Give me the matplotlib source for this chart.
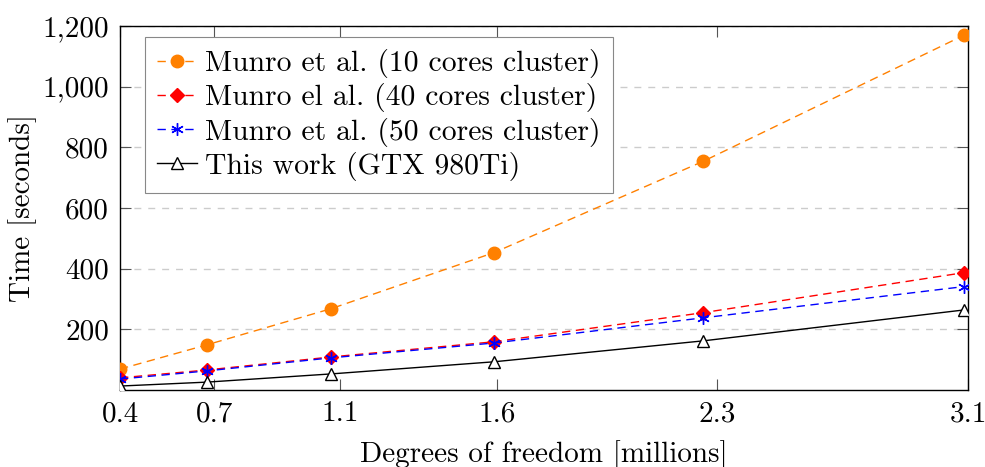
import matplotlib
matplotlib.use("Agg")
import matplotlib.pyplot as plt

# Data (degrees of freedom in millions vs time in seconds)
dof = [0.40, 0.677, 1.072, 1.591, 2.257, 3.088]
munro_10 = [69, 149, 268, 453, 754, 1170]
munro_40 = [40, 66, 109, 159, 255, 387]
munro_50 = [36, 63, 106, 155, 238, 341]
this_work = [13, 26, 53, 93, 162, 264]

xticks = [0.4, 0.7, 1.1, 1.6, 2.3, 3.1]
yticks = [200, 400, 600, 800, 1000, 1200]
ytick_labels = ["200", "400", "600", "800", "1,000", "1,200"]

labels = ["Munro et al. (10 cores cluster)",
          "Munro el al. (40 cores cluster)",
          "Munro et al. (50 cores cluster)",
          "This work (GTX 980Ti)"]

plt.rcParams['font.family'] = ['cmr10', 'DejaVu Serif']
plt.rcParams['axes.formatter.use_mathtext'] = True
plt.rcParams['mathtext.fontset'] = 'cm'

fig = plt.figure(figsize=(9.85, 4.67), dpi=100)
ax = fig.add_axes([120/985, 77/467, 848/985, 364/467])

fs = 21
lfs = 21.4
ax.plot(dof, munro_10, color='#ff8000', ls=(0, (6, 4)), lw=1.0, marker='o',
        ms=9, mec='#ff8000', mfc='#ff8000', label=labels[0], zorder=3)
ax.plot(dof, munro_40, color='#ff0000', ls=(0, (6, 4)), lw=1.0, marker='D',
        ms=7, mec='#ff0000', mfc='#ff0000', label=labels[1], zorder=3)
ax.plot(dof, munro_50, color='#0000ff', ls=(0, (6, 4)), lw=1.0, marker=(6, 2, 0),
        ms=9, mec='#0000ff', mew=1.0, label=labels[2], zorder=3)
ax.plot(dof, this_work, color='black', ls='-', lw=1.0, marker='^',
        ms=8, mec='black', mfc='white', mew=1.0, label=labels[3], zorder=3)

ax.set_xlim(0.4, 3.1)
ax.set_ylim(0, 1200)
ax.set_xticks(xticks)
ax.set_xticklabels([str(t) for t in xticks], fontsize=fs)
ax.set_yticks(yticks)
ax.set_yticklabels(ytick_labels, fontsize=fs)
ax.tick_params(direction='in', length=8, width=0.8, color='#555555',
               top=True, right=True, pad=8)
ax.yaxis.grid(True, ls=(0, (5, 5)), color='#cccccc', lw=1.0)
ax.set_axisbelow(True)
for s in ax.spines.values():
    s.set_linewidth(1.0)
    s.set_color('black')

ax.set_xlabel("Degrees of freedom [millions]", fontsize=fs, labelpad=9)
ax.set_ylabel("Time [seconds]", fontsize=fs, labelpad=4)

leg = ax.legend(loc='upper left', bbox_to_anchor=(0.029, 0.97), borderaxespad=0,
                fontsize=lfs, numpoints=1, handlelength=1.35, handletextpad=0.25,
                labelspacing=0.17, borderpad=0.42, fancybox=False, framealpha=1,
                edgecolor='#888888')
leg.get_frame().set_linewidth(0.8)

fig.savefig("out.png", dpi=100)
